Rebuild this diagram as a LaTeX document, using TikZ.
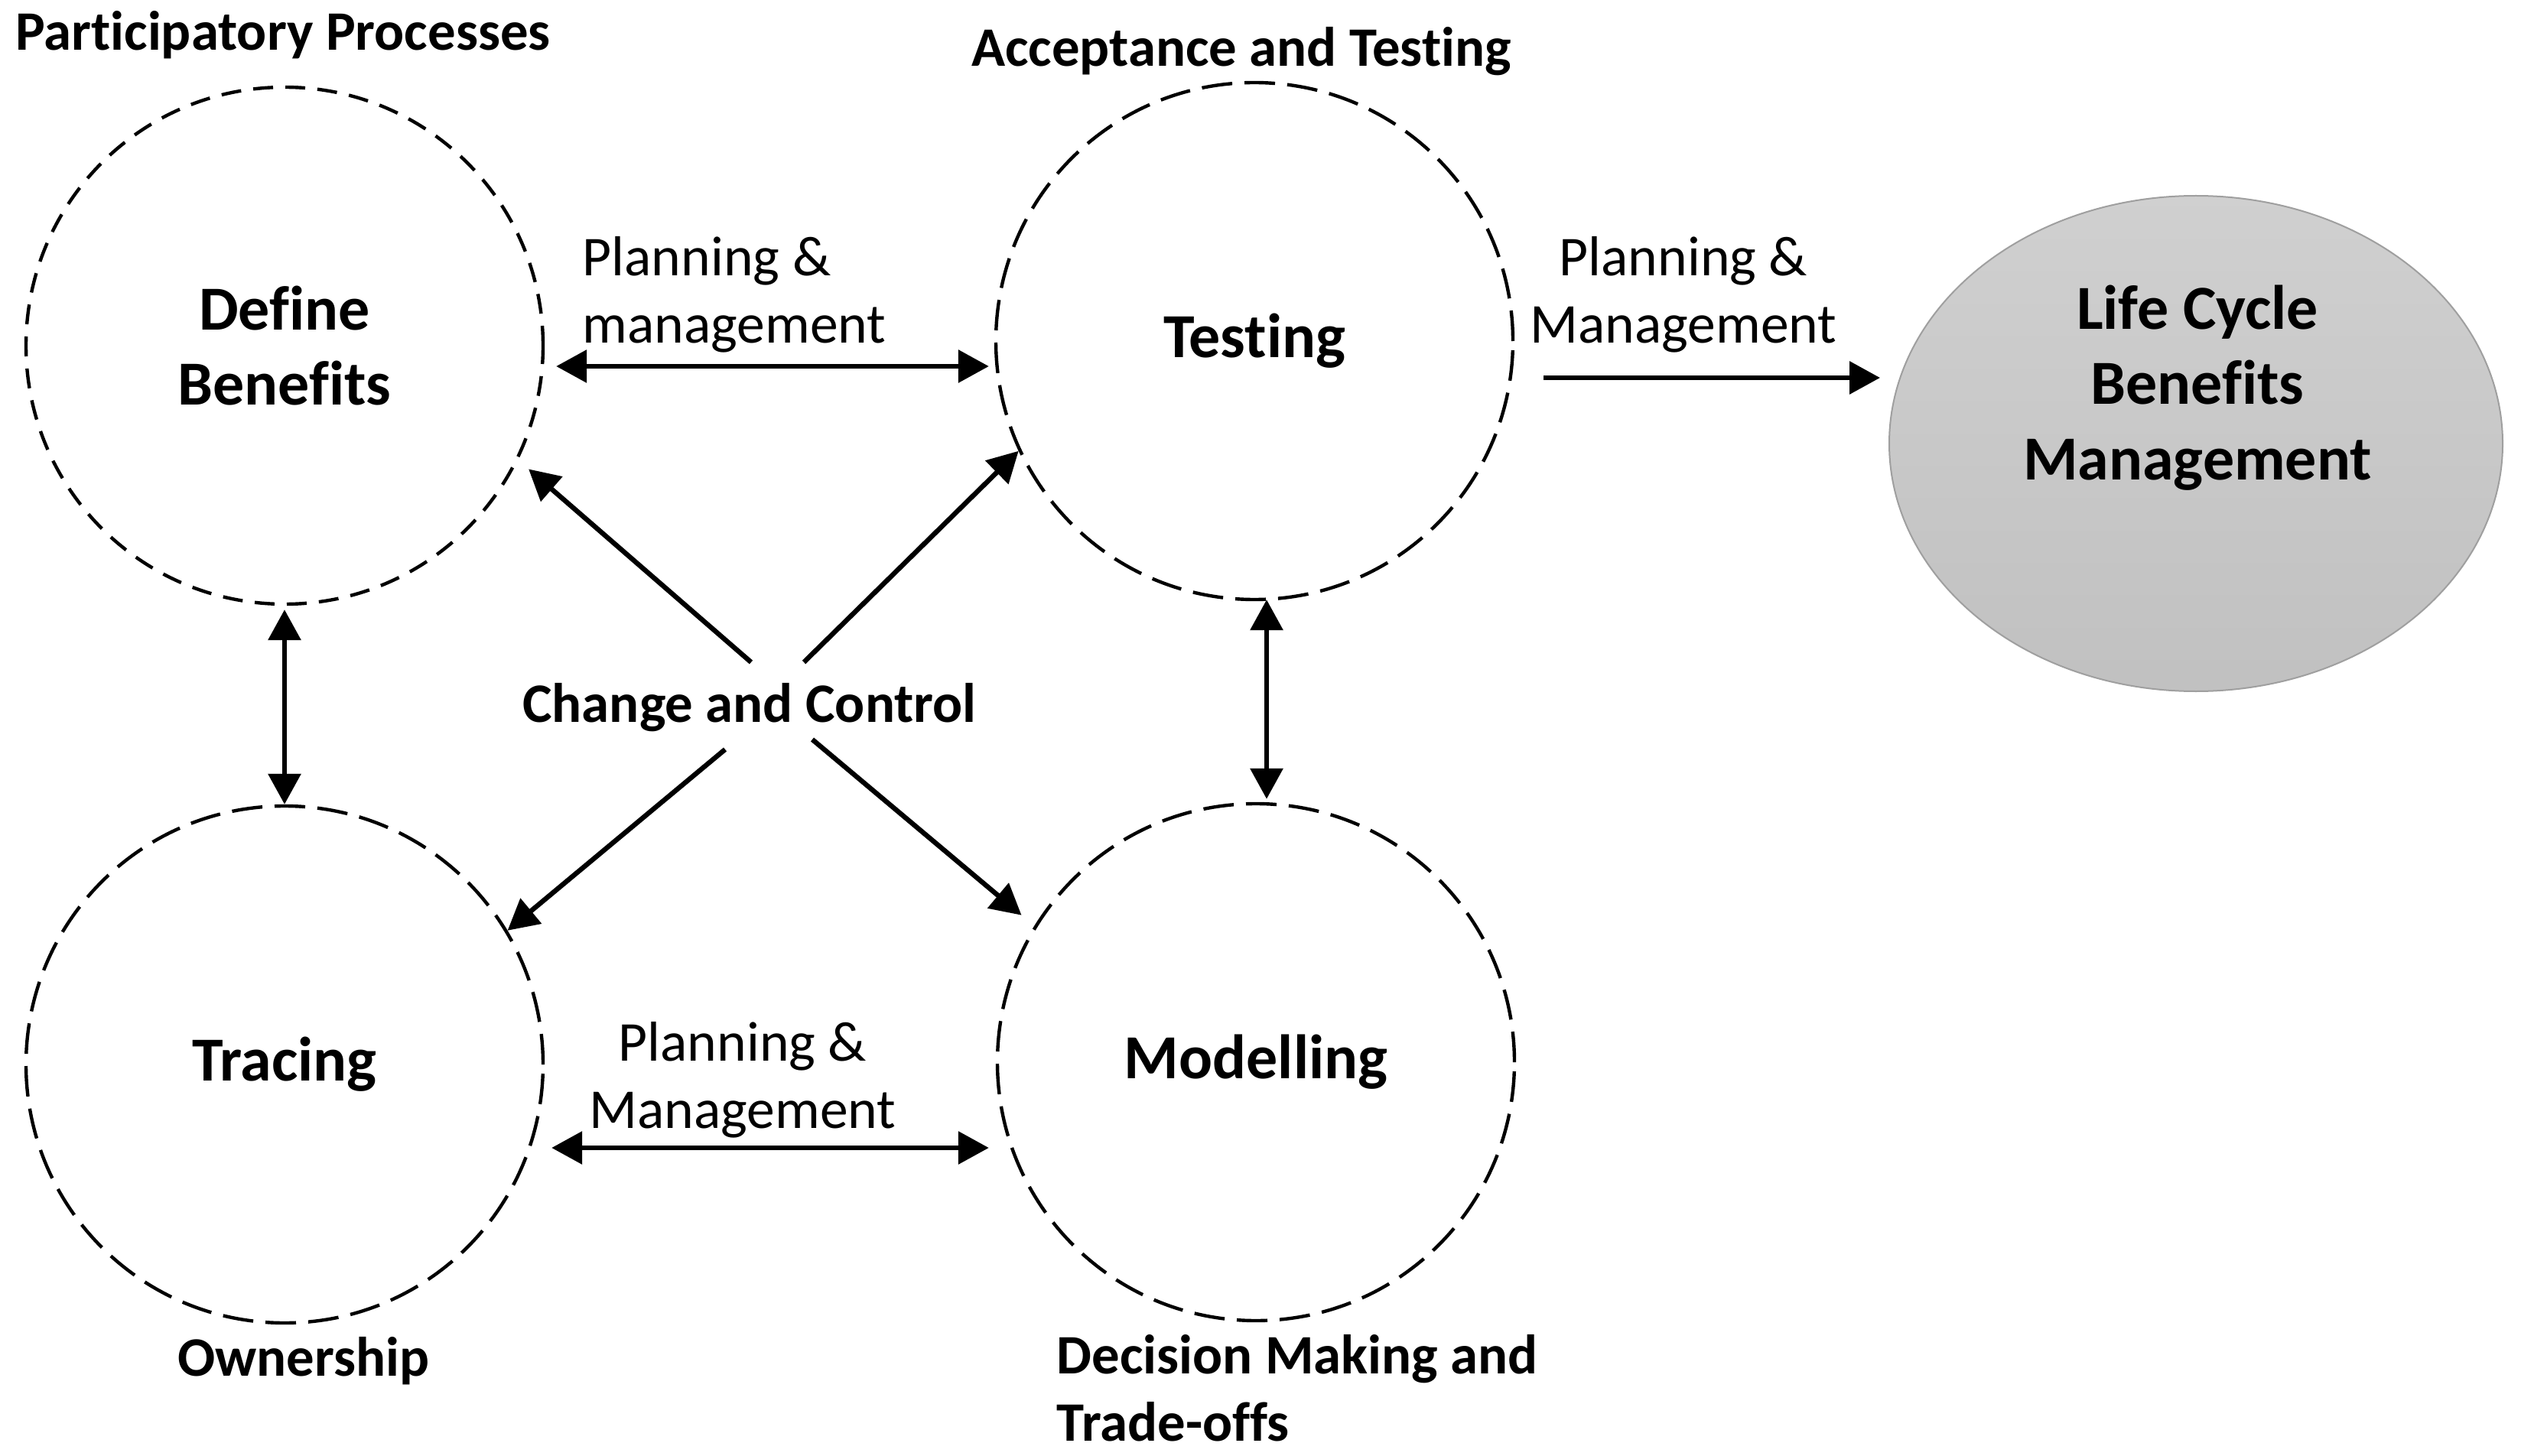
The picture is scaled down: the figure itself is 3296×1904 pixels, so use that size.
\documentclass[tikz,border=0pt]{standalone}
\usepackage{fontspec}
\setmainfont{Carlito}[Ligatures={NoCommon}]
\usetikzlibrary{arrows.meta,shapes.geometric}
\begin{document}
\begin{tikzpicture}[x=0.25pt,y=-0.25pt,
  bub/.style={circle,draw,line width=1.1pt,minimum size=169pt,inner sep=0pt,
    dash pattern=on 10pt off 4pt,
    font=\bfseries\fontsize{20.5}{24.7}\selectfont,align=center},
  lab/.style={font=\bfseries\fontsize{18.2}{22}\selectfont,inner sep=0pt},
  plab/.style={font=\fontsize{18.4}{22}\selectfont,inner sep=0pt},
  arr/.style={line width=1.6pt,-{Triangle[length=10pt,width=10.5pt]}},
  darr/.style={line width=1.6pt,{Triangle[length=10pt,width=10.5pt]}-{Triangle[length=10pt,width=10.5pt]}}
]
\useasboundingbox (0,0) rectangle (3296,1904);

% circles
\node[bub,dash pattern=on 6.5pt off 4pt] (db) at (372,452) {Define\\Benefits};
\node[bub] (te) at (1640,446) {\raisebox{-1pt}{Testing}};
\node[bub] (tr) at (372,1392) {\raisebox{-2pt}{Tracing}};
\node[bub] (mo) at (1642,1389) {\raisebox{-2pt}{Modelling}};
\node[ellipse,minimum width=200.5pt,minimum height=162pt,inner sep=0pt,
      top color=gray!37,bottom color=gray!49,draw=gray!75,line width=0.5pt]
      (lc) at (2871,580) {};
\node[font=\bfseries\fontsize{20.5}{24.7}\selectfont,align=center,inner sep=0pt]
      (lct) at (2873,507) {Life Cycle\\Benefits\\Management};

% labels
\node[lab] (pp) at (370,46) {Participatory Processes};
\node[lab] (at) at (1623,67) {Acceptance and Testing};
\node[lab] (ow) at (397,1780) {Ownership};
\node[lab,anchor=west,align=left] (dm) at (1381,1815) {Decision Making and\\Trade-offs};
\node[lab] (cc) at (980,925) {Change and Control};

\node[plab,anchor=west,align=left] (p1) at (761,385) {Planning \&\\management};
\node[plab,align=center] (p2) at (2201,385) {Planning \&\\Management};
\node[plab,align=center] (p3) at (971,1412) {Planning \&\\Management};

% horizontal / vertical connectors
\draw[darr] ([shift={(15,27)}]db.east) -- ([shift={(-7,33)}]te.west);
\draw[arr] ([shift={(38,48)}]te.east) -- ([shift={(-11,-86)}]lc.west);
\draw[darr] ([shift={(9,109)}]tr.east) -- ([shift={(-9,112)}]mo.west);
\draw[darr] ([shift={(0,5)}]db.south) -- (tr.north);
\draw[darr] ([shift={(16,-2)}]te.south) -- ([shift={(14,-4)}]mo.north);

% change and control arrows
\coordinate (t1) at (982,866);
\coordinate (t2) at (1051,866);
\coordinate (t3) at (948,980);
\coordinate (t4) at (1062,967);
\draw[arr] (t1) -- ([shift={(16,7)}]db.-27);
\draw[arr] (t2) -- (te.205.6);
\draw[arr] (t3) -- (tr.31);
\draw[arr] (t4) -- ([shift={(-18,-12)}]mo.148);
\end{tikzpicture}
\end{document}
